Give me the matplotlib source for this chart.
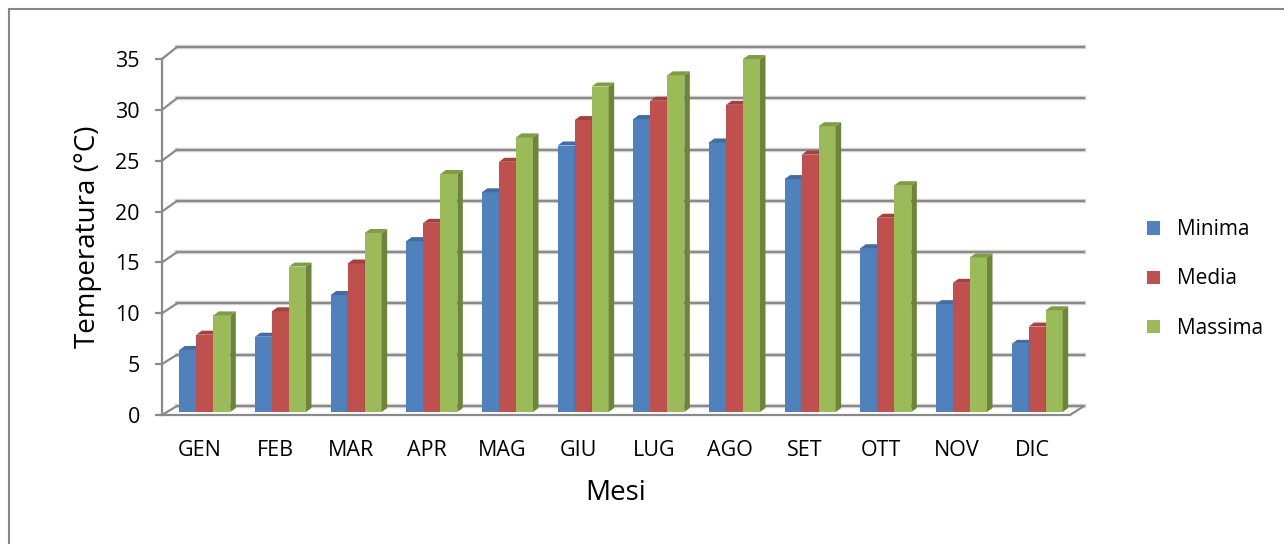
import matplotlib
matplotlib.use('Agg')
import matplotlib.pyplot as plt
from matplotlib.patches import Polygon, Rectangle, Patch, ConnectionPatch

plt.rcParams['font.family'] = ['Open Sans', 'DejaVu Sans']

mesi = ['GEN', 'FEB', 'MAR', 'APR', 'MAG', 'GIU', 'LUG', 'AGO', 'SET', 'OTT', 'NOV', 'DIC']
minima = [6.1, 7.4, 11.5, 16.8, 21.6, 26.2, 28.8, 26.5, 22.9, 16.1, 10.6, 6.7]
media = [7.6, 9.9, 14.6, 18.6, 24.6, 28.7, 30.6, 30.2, 25.3, 19.1, 12.7, 8.4]
massima = [9.5, 14.3, 17.6, 23.4, 27.0, 32.0, 33.1, 34.7, 28.1, 22.3, 15.2, 10.0]
serie = ['Minima', 'Media', 'Massima']
yticks = [0, 5, 10, 15, 20, 25, 30, 35]

# front, side, top colours for each series
colori = [('#4F81BD', '#3A6194', '#406DA3'),
          ('#C0504D', '#923B39', '#A5403D'),
          ('#9BBB59', '#6C853A', '#7F9D45')]

W, H = 1284, 544
fig = plt.figure(figsize=(W / 100, H / 100), dpi=100)
fig.patch.set_facecolor('white')

# chart area border (only top and left fall inside the image)
fig.patches.append(Rectangle((9 / W, -0.1), 1.2, (H - 9) / H + 0.1, transform=fig.transFigure,
                             fill=False, edgecolor='#878787', lw=1.5))

# back wall
ax_back = fig.add_axes([177 / W, (H - 406) / H, (1084 - 177) / W, (406 - 47) / H])
ax_back.set_xlim(-0.5, 11.5)
ax_back.set_ylim(0, 35)
ax_back.axis('off')
for v in yticks:
    ax_back.axhline(v, color='#d4d4d4', lw=3.2, clip_on=False, zorder=1)
    ax_back.axhline(v, color='#8a8a8a', lw=1.5, clip_on=False, zorder=2)

# front plane
ax = fig.add_axes([162 / W, (H - 415) / H, (1070 - 162) / W, (415 - 59) / H])
ax.set_xlim(-0.5, 11.5)
ax.set_ylim(0, 35)
ax.patch.set_alpha(0)
for s in ['top', 'right']:
    ax.spines[s].set_visible(False)
for s in ['left', 'bottom']:
    ax.spines[s].set_color('#8a8a8a')
    ax.spines[s].set_linewidth(1.6)

# wall/floor edges from the front plane to the back wall
for v in yticks:
    con = ConnectionPatch(xyA=(-0.5, v), coordsA=ax.transData, xyB=(-0.5, v), coordsB=ax_back.transData,
                          color='#8a8a8a', lw=1.6)
    fig.add_artist(con)
fig.add_artist(ConnectionPatch(xyA=(11.5, 0), coordsA=ax.transData, xyB=(11.5, 0), coordsB=ax_back.transData,
                               color='#8a8a8a', lw=1.6))

# pixel -> data conversion on the front axes
px_x = 12 / (1070 - 162)
px_y = 35 / (415 - 59)
shift_x = 5 * px_x
base = 3 * px_y
dx = 5.5 * px_x
dy = 4 * px_y
w = 17 * px_x

for j, vals in enumerate([minima, media, massima]):
    front, side, top = colori[j]
    xs = [i + shift_x + (j - 1) * w for i in range(len(mesi))]
    ax.bar(xs, vals, width=w, bottom=base, color=front, zorder=3 + j, clip_on=False)
    for x, v in zip(xs, vals):
        x1 = x + w / 2
        x0 = x - w / 2
        ax.add_patch(Polygon([(x1, base), (x1 + dx, base + dy), (x1 + dx, base + v + dy), (x1, base + v)],
                             closed=True, facecolor=side, edgecolor='none', zorder=3 + j, clip_on=False))
        ax.add_patch(Polygon([(x0, base + v), (x0 + dx, base + v + dy), (x1 + dx, base + v + dy), (x1, base + v)],
                             closed=True, facecolor=top, edgecolor='none', zorder=3 + j, clip_on=False))

ax.set_yticks(yticks)
ax.set_yticklabels([str(v) for v in yticks], fontsize=15.5)
ax.set_xticks(range(len(mesi)))
ax.set_xticklabels(mesi, fontsize=15.5)
ax.tick_params(axis='y', direction='out', length=5, width=1.6, color='#8a8a8a', pad=11)
ax.tick_params(axis='x', length=0, pad=18)

ax.set_ylabel('Temperatura (°C)', fontsize=20)
ax.yaxis.set_label_coords((88 - 162) / (1070 - 162), 0.5)
ax.yaxis.label.set_va('center')
ax.set_xlabel('Mesi', fontsize=20)
ax.xaxis.set_label_coords(0.5, (415 - 493) / (415 - 59))
ax.xaxis.label.set_va('center')

handles = [Patch(facecolor=c[0]) for c in colori]
fig.legend(handles, serie, loc='center left', bbox_to_anchor=(1147 / W, (H - 279) / H),
           frameon=False, fontsize=15, handlelength=0.6, handleheight=0.6, handletextpad=0.85,
           labelspacing=1.35, borderpad=0, borderaxespad=0)

fig.savefig('out.png', dpi=100)
